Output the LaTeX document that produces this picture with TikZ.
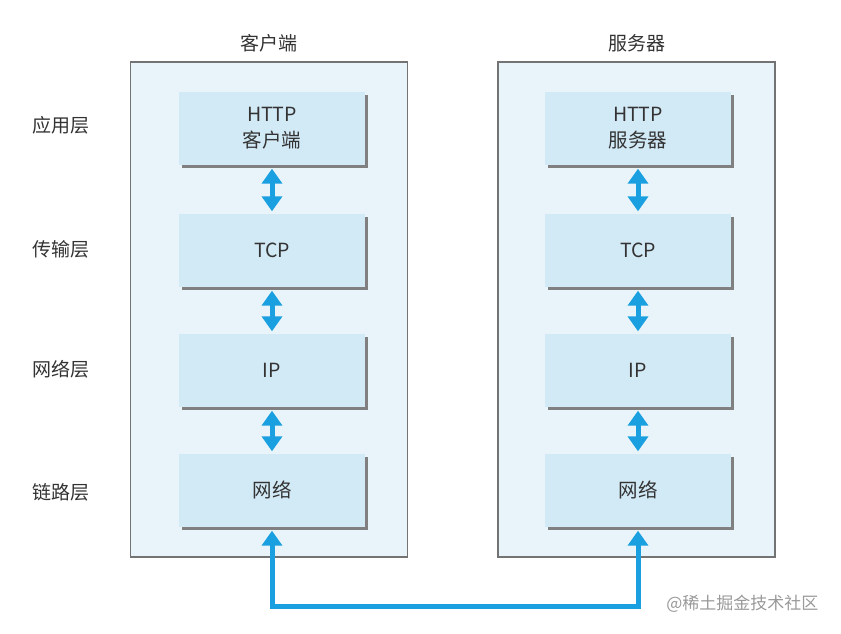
\documentclass[tikz,border=0pt]{standalone}
\usepackage{fontspec}
\setmainfont{Noto Sans CJK SC}
\usepackage{tikz}
\usetikzlibrary{arrows.meta,shadows}

\definecolor{framefill}{HTML}{E8F4FA}
\definecolor{boxfill}{HTML}{D2E9F6}
\definecolor{linkblue}{HTML}{1A9FE0}

\begin{document}
\begin{tikzpicture}[x=1pt,y=-1pt,
    frame/.style={draw=gray!90!black,line width=1.2pt,fill=framefill,minimum width=277pt,minimum height=495pt,inner sep=0pt},
    layerbox/.style={fill=boxfill,minimum width=186pt,minimum height=73pt,inner sep=0pt,align=center,
        font=\fontsize{19.5}{26}\selectfont,text=black!80,
        drop shadow={shadow xshift=3pt,shadow yshift=-3pt,fill=gray,opacity=1}},
    layername/.style={font=\fontsize{19}{26}\selectfont,text=black!80},
    updown/.style={linkblue,line width=5pt,{Triangle[width=20pt,length=15pt]}-{Triangle[width=20pt,length=15pt]}}]
    \useasboundingbox (0,0) rectangle (841,633);
    % frames
    \node[frame] (client) at (269,309.5) {};
    \node[frame] (server) at (636.5,309.5) {};
    \node[layername] (clienttitle) at (269,43) {客户端};
    \node[layername] (servertitle) at (636.5,43) {服务器};
    % layer names
    \node[layername] (app) at (61,125) {应用层};
    \node[layername] (trans) at (61,249) {传输层};
    \node[layername] (net) at (61,369) {网络层};
    \node[layername] (link) at (61,492) {链路层};
    % client stack
    \node[layerbox] (httpc) at (272,128) {HTTP\\客户端};
    \node[layerbox] (tcpc) at (272,250) {TCP};
    \node[layerbox] (ipc) at (272,370) {IP};
    \node[layerbox] (lnc) at (272,490) {网络};
    % server stack
    \node[layerbox] (https) at (638,128) {HTTP\\服务器};
    \node[layerbox] (tcps) at (638,250) {TCP};
    \node[layerbox] (ips) at (638,370) {IP};
    \node[layerbox] (lns) at (638,490) {网络};
    % arrows
    \draw[updown] ([yshift=-4pt]httpc.south) -- ([yshift=2pt]tcpc.north);
    \draw[updown] ([yshift=-4pt]tcpc.south) -- ([yshift=2pt]ipc.north);
    \draw[updown] ([yshift=-4pt]ipc.south) -- ([yshift=2pt]lnc.north);
    \draw[updown] ([yshift=-4pt]https.south) -- ([yshift=2pt]tcps.north);
    \draw[updown] ([yshift=-4pt]tcps.south) -- ([yshift=2pt]ips.north);
    \draw[updown] ([yshift=-4pt]ips.south) -- ([yshift=2pt]lns.north);
    \coordinate (wire) at (0,606);
    \draw[updown,line join=miter] ([yshift=-4pt]lnc.south) -- (lnc.south |- wire) -| ([yshift=-4pt]lns.south);
    \node[font=\fontsize{17}{20}\selectfont,text=gray!80,anchor=east] (mark) at (822,604) {@稀土掘金技术社区};
\end{tikzpicture}
\end{document}
